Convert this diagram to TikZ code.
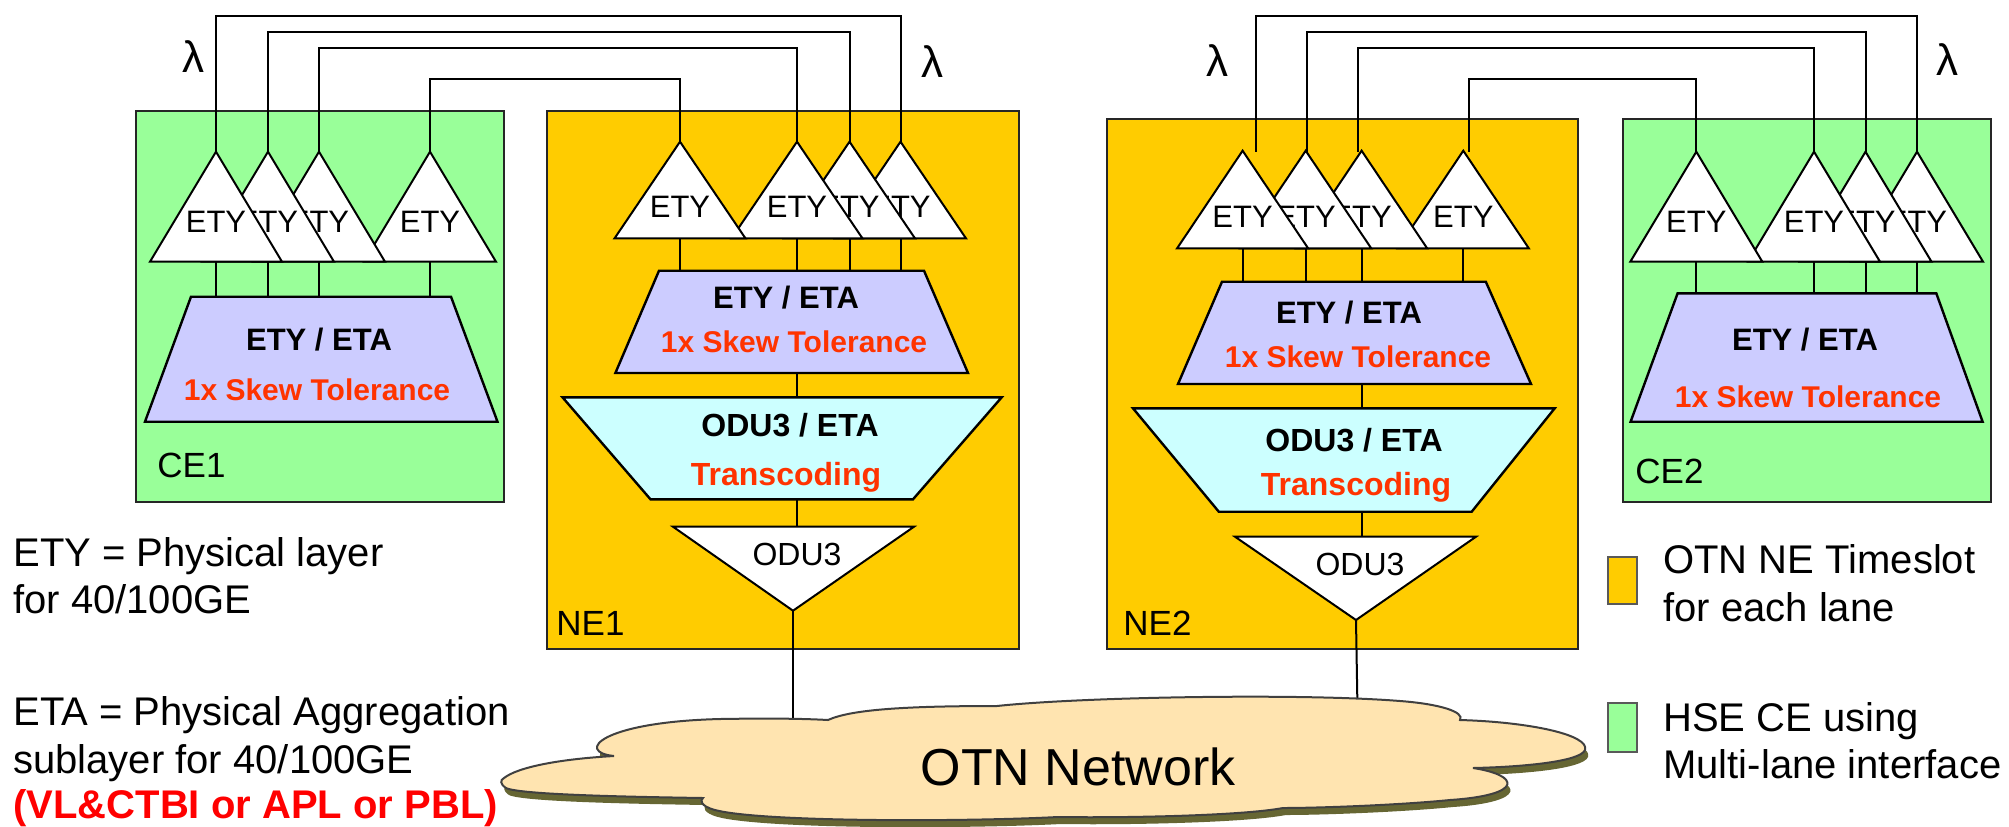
\documentclass[tikz,border=0pt]{standalone}
\usepackage{fontspec}
\setmainfont{Liberation Sans}
\definecolor{ceGreen}{HTML}{99FF99}
\definecolor{neOrange}{HTML}{FFCC00}
\definecolor{lav}{HTML}{CCCCFF}
\definecolor{cyanish}{HTML}{CCFFFF}
\definecolor{skewRed}{HTML}{FF3300}
\definecolor{pureRed}{HTML}{FF0000}
\definecolor{cloudFill}{HTML}{FFE4B0}
\definecolor{cloudShadow}{HTML}{666633}
\newcommand{\etytri}[6]{%
  \coordinate (#1-t) at (#2,#3);
  \coordinate (#1-b) at (#2,{#3+#5});
  \filldraw[tri] (#1-t) -- ++(#4,#5) -- ++({-2*#4},0) -- cycle;
  \node[etytxt, anchor=base] (#1) at (#2,#6) {ETY};
}
\newcommand{\trapz}[8]{%
  \filldraw[trapst, fill=#2] (#4,#3) -- (#5,#3) -- (#8,#6) -- (#7,#6) -- cycle;
  \coordinate (#1-t) at ({(#4+#5)/2},#3);
  \coordinate (#1-b) at ({(#7+#8)/2},#6);
}
\newcommand{\odutri}[6]{%
  \filldraw[tri] (#3,#2) -- (#4,#2) -- (#5,#6) -- cycle;
  \coordinate (#1-t) at (#5,#2);
  \coordinate (#1-b) at (#5,#6);
}
\newcommand{\cloudshape}{(504,778) .. controls (518,767) and (560,759) .. (614,756) .. controls (575,752) and (600,722) .. (720,719) .. controls (780,718) and (810,719) .. (828,720) .. controls (850,710) and (900,706) .. (997,706) .. controls (1080,697) and (1300,693) .. (1400,701) .. controls (1440,704) and (1465,712) .. (1460,720) .. controls (1530,722) and (1590,735) .. (1585,750) .. controls (1580,762) and (1520,767) .. (1473,768) .. controls (1520,775) and (1525,795) .. (1450,800) .. controls (1400,805) and (1320,808) .. (1283,808) .. controls (1240,816) and (1120,818) .. (1058,817) .. controls (960,822) and (760,822) .. (715,810) .. controls (700,806) and (700,800) .. (703,798) .. controls (640,797) and (520,795) .. (506,788) .. controls (500,784) and (500,780) .. (504,778) -- cycle}
\begin{document}
\begin{tikzpicture}[x=0.5pt,y=-0.5pt,
  box/.style={line width=1.2pt, draw=black!85},
  wire/.style={line width=1pt, draw=black},
  link/.style={line width=1pt, draw=black},
  tri/.style={line width=1pt, draw=black, fill=white, line join=miter},
  trapst/.style={line width=1.2pt, draw=black},
  etytxt/.style={inner sep=0pt, font=\fontsize{15.5pt}{18pt}\selectfont},
  boldtxt/.style={inner sep=0pt, font=\bfseries\fontsize{15.5pt}{18pt}\selectfont},
  redtxt/.style={inner sep=0pt, text=skewRed, font=\bfseries\fontsize{15pt}{18pt}\selectfont},
  odbold/.style={inner sep=0pt, font=\bfseries\fontsize{16pt}{18pt}\selectfont},
  odred/.style={inner sep=0pt, text=skewRed, font=\bfseries\fontsize{16pt}{18pt}\selectfont},
  odutxt/.style={inner sep=0pt, font=\fontsize{16pt}{18pt}\selectfont},
  lbl/.style={inner sep=0pt, font=\fontsize{17.5pt}{20pt}\selectfont},
  plain/.style={inner sep=0pt, font=\fontsize{20pt}{24pt}\selectfont},
  plainred/.style={inner sep=0pt, text=pureRed, font=\bfseries\fontsize{20pt}{24pt}\selectfont},
  lam/.style={inner sep=0pt, font=\fontsize{22pt}{26pt}\selectfont},
  legbox/.style={line width=1.2pt, draw=black!65},
]
\useasboundingbox (0,0) rectangle (2009,826);

% equipment boxes
\draw[box, fill=ceGreen] (136,111) rectangle (504,502);
\draw[box, fill=neOrange] (547,111) rectangle (1019,649);
\draw[box, fill=neOrange] (1107,119) rectangle (1578,649);
\draw[box, fill=ceGreen] (1623,119) rectangle (1991,502);
\node[lbl, anchor=base west] (ce1lbl) at (157,477) {CE1};
\node[lbl, anchor=base west] (ne1lbl) at (556,635) {NE1};
\node[lbl, anchor=base west] (ne2lbl) at (1123,635) {NE2};
\node[lbl, anchor=base west] (ce2lbl) at (1635,483) {CE2};

% ETY triangles (drawn right to left)
\etytri{c1d}{430}{151.7}{66}{110}{232}
\etytri{c1c}{319}{151.7}{66}{110}{232}
\etytri{c1b}{268}{151.7}{66}{110}{232}
\etytri{c1a}{216}{151.7}{66}{110}{232}
\etytri{n1d}{900.5}{141.7}{65.5}{96.7}{217}
\etytri{n1c}{849.5}{141.7}{65.5}{96.7}{217}
\etytri{n1b}{797}{141.7}{65.5}{96.7}{217}
\etytri{n1a}{680}{141.7}{65.5}{96.7}{217}
\etytri{n2d}{1463.3}{150.7}{65.5}{97.6}{227}
\etytri{n2c}{1361.6}{150.7}{65.5}{97.6}{227}
\etytri{n2b}{1305.7}{150.7}{65.5}{97.6}{227}
\etytri{n2a}{1242.6}{150.7}{65.5}{97.6}{227}
\etytri{c2d}{1917}{151.7}{66}{110}{232}
\etytri{c2c}{1865.5}{151.7}{66}{110}{232}
\etytri{c2b}{1814}{151.7}{66}{110}{232}
\etytri{c2a}{1696.3}{151.7}{66}{110}{232}

% lambda wires
\coordinate (wy1) at (0,15.7);
\coordinate (wy2) at (0,31.7);
\coordinate (wy3) at (0,47.7);
\coordinate (wy4) at (0,79.3);
\draw[wire] (c1a-t) -- (c1a-t |- wy1) -- (n1d-t |- wy1) -- (n1d-t);
\draw[wire] (c1b-t) -- (c1b-t |- wy2) -- (n1c-t |- wy2) -- (n1c-t);
\draw[wire] (c1c-t) -- (c1c-t |- wy3) -- (n1b-t |- wy3) -- (n1b-t);
\draw[wire] (c1d-t) -- (c1d-t |- wy4) -- (n1a-t |- wy4) -- (n1a-t);
\coordinate (n2w1) at (1255.5,151.7);
\coordinate (n2w2) at (1307,151.7);
\coordinate (n2w3) at (1357.8,151.7);
\coordinate (n2w4) at (1468.5,151.7);
\draw[wire] (n2w1) -- (n2w1 |- wy1) -- (c2d-t |- wy1) -- (c2d-t);
\draw[wire] (n2w2) -- (n2w2 |- wy2) -- (c2c-t |- wy2) -- (c2c-t);
\draw[wire] (n2w3) -- (n2w3 |- wy3) -- (c2b-t |- wy3) -- (c2b-t);
\draw[wire] (n2w4) -- (n2w4 |- wy4) -- (c2a-t |- wy4) -- (c2a-t);
\node[lam, anchor=base] (lam1) at (193,72) {λ};
\node[lam, anchor=base] (lam2) at (932,77) {λ};
\node[lam, anchor=base] (lam3) at (1217,76) {λ};
\node[lam, anchor=base] (lam4) at (1947,75) {λ};

% ETY / ETA trapezoids
\trapz{c1tr}{lav}{296.7}{191}{451}{421.7}{145}{497.5}
\trapz{n1tr}{lav}{270.7}{659}{924}{373}{615.4}{968}
\trapz{n2tr}{lav}{281.7}{1222}{1485.8}{384}{1178}{1531}
\trapz{c2tr}{lav}{293.3}{1677.6}{1936.3}{421.7}{1630.6}{1982.6}
\foreach \t in {c1a,c1b,c1c,c1d} {\draw[link] (\t-b) -- (\t-b |- c1tr-t);}
\foreach \t in {n1a,n1b,n1c,n1d} {\draw[link] (\t-b) -- (\t-b |- n1tr-t);}
\foreach \t in {n2a,n2b,n2c,n2d} {\draw[link] (\t-b) -- (\t-b |- n2tr-t);}
\foreach \t in {c2a,c2b,c2c,c2d} {\draw[link] (\t-b) -- (\t-b |- c2tr-t);}
\node[boldtxt, anchor=base] (c1tr1) at (319,350) {ETY / ETA};
\node[redtxt, anchor=base] (c1tr2) at (317,400) {1x Skew Tolerance};
\node[boldtxt, anchor=base] (n1tr1) at (786,308) {ETY / ETA};
\node[redtxt, anchor=base] (n1tr2) at (794,352) {1x Skew Tolerance};
\node[boldtxt, anchor=base] (n2tr1) at (1349,323) {ETY / ETA};
\node[redtxt, anchor=base] (n2tr2) at (1358,367) {1x Skew Tolerance};
\node[boldtxt, anchor=base] (c2tr1) at (1805,350) {ETY / ETA};
\node[redtxt, anchor=base] (c2tr2) at (1808,407) {1x Skew Tolerance};

% ODU3 / ETA trapezoids
\trapz{n1cy}{cyanish}{397.3}{562.5}{1001.7}{499.3}{650.5}{913}
\trapz{n2cy}{cyanish}{408.3}{1133}{1554.7}{511.7}{1218.8}{1471.7}
\draw[link] (n1b-b |- n1tr-b) -- (n1b-b |- n1cy-t);
\draw[link] (n2c-b |- n2tr-b) -- (n2c-b |- n2cy-t);
\node[odbold, anchor=base] (n1cy1) at (790,436.7) {ODU3 / ETA};
\node[odred, anchor=base] (n1cy2) at (786,485) {Transcoding};
\node[odbold, anchor=base] (n2cy1) at (1354,451.7) {ODU3 / ETA};
\node[odred, anchor=base] (n2cy2) at (1356,495) {Transcoding};

% ODU3 triangles
\odutri{n1odu}{526.7}{673}{914}{793}{610.7}
\odutri{n2odu}{536.7}{1235}{1476}{1356}{620}
\draw[link] (n1b-b |- n1cy-b) -- (n1b-b |- n1odu-t);
\draw[link] (n2c-b |- n2cy-b) -- (n2c-b |- n2odu-t);
\node[odutxt, anchor=base] (n1odutxt) at (797,565) {ODU3};
\node[odutxt, anchor=base] (n2odutxt) at (1360,575) {ODU3};
\coordinate (n1cl) at (793,740);
\coordinate (n2cl) at (1358,740);
\draw[link] (n1odu-b) -- (n1cl);
\draw[link] (n2odu-b) -- (n2cl);

% cloud
\fill[cloudShadow, shift={(3,7)}] \cloudshape;
\filldraw[fill=cloudFill, draw=black!75, line width=1pt] \cloudshape;
\node[inner sep=0pt, anchor=base, font=\fontsize{26pt}{30pt}\selectfont] (otn) at (1078,785) {OTN Network};

% left definitions
\node[plain, anchor=base west] (def1a) at (13,566.7) {ETY = Physical layer};
\node[plain, anchor=base west] (def1b) at (13,613.3) {for 40/100GE};
\node[plain, anchor=base west] (def2a) at (13,725) {ETA = Physical Aggregation};
\node[plain, anchor=base west] (def2b) at (13,773.3) {sublayer for 40/100GE};
\node[plainred, anchor=base west] (def2c) at (13,818.3) {(VL\&CTBI or APL or PBL)};

% legend
\draw[legbox, fill=neOrange] (1608,556.7) rectangle (1637,604);
\draw[legbox, fill=ceGreen] (1608,702.7) rectangle (1637,751.7);
\node[plain, anchor=base west] (leg1a) at (1663,573.3) {OTN NE Timeslot};
\node[plain, anchor=base west] (leg1b) at (1663,621.7) {for each lane};
\node[plain, anchor=base west] (leg2a) at (1663,731) {HSE CE using};
\node[plain, anchor=base west] (leg2b) at (1663,778.3) {Multi-lane interface};
\end{tikzpicture}
\end{document}
